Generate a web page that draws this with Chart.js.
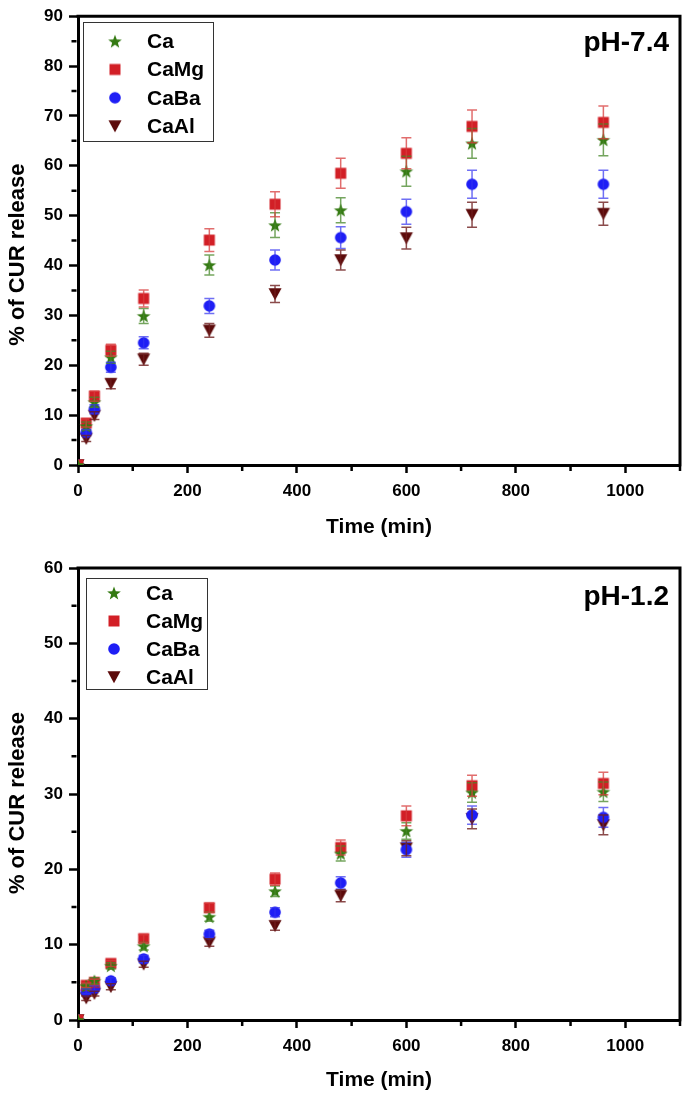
<!DOCTYPE html>
<html><head><meta charset="utf-8">
<script src="https://cdn.jsdelivr.net/npm/chart.js@4/dist/chart.umd.min.js"></script>
<style>
html,body{margin:0;padding:0;background:#fff;}
#c1{position:absolute;left:0;top:0;}
#c2{position:absolute;left:0;top:550px;}
</style></head><body>
<canvas id="c1" width="688" height="550"></canvas>
<canvas id="c2" width="688" height="549"></canvas>
<script>
// ---------- data ----------
const times = [0, 15, 30, 60, 120, 240, 360, 480, 600, 720, 960];
const seriesNames = ['Ca', 'CaMg', 'CaBa', 'CaAl'];
const xTickLabels = [0, 200, 400, 600, 800, 1000];

// pH 7.4
const ph74_Ca   = [0, 7.8, 12.6, 21.6, 29.9, 40.1, 48.1, 51.1, 58.9, 64.5, 65.2];
const ph74_CaMg = [0, 8.4, 13.8, 23.0, 33.4, 45.1, 52.3, 58.5, 62.5, 67.9, 68.7];
const ph74_CaBa = [0, 6.5, 11.2, 19.6, 24.5, 31.9, 41.1, 45.6, 50.8, 56.3, 56.3];
const ph74_CaAl = [0, 5.3, 9.9, 16.3, 21.2, 27.0, 34.3, 41.1, 45.5, 50.2, 50.4];
const ph74_CaErr   = [0, 0.8, 1.0, 1.2, 1.5, 2.0, 2.5, 2.5, 3.0, 3.0, 3.2];
const ph74_CaMgErr = [0, 0.8, 1.0, 1.2, 1.7, 2.3, 2.5, 3.0, 3.1, 3.3, 3.3];
const ph74_CaBaErr = [0, 0.6, 0.9, 1.0, 1.2, 1.5, 2.0, 2.2, 2.5, 2.8, 2.8];
const ph74_CaAlErr = [0, 0.6, 0.8, 1.0, 1.2, 1.4, 1.7, 2.0, 2.2, 2.5, 2.3];

// pH 1.2
const ph12_Ca   = [0, 4.5, 5.2, 7.2, 9.8, 13.7, 17.1, 22.1, 25.1, 30.2, 30.3];
const ph12_CaMg = [0, 4.6, 5.0, 7.5, 10.8, 14.9, 18.7, 22.9, 27.1, 31.1, 31.4];
const ph12_CaBa = [0, 3.8, 4.2, 5.2, 8.1, 11.4, 14.3, 18.2, 22.6, 27.2, 26.9];
const ph12_CaAl = [0, 2.9, 3.5, 4.4, 7.4, 10.3, 12.5, 16.5, 22.8, 26.7, 25.9];
const ph12_CaErr   = [0, 0.3, 0.4, 0.4, 0.5, 0.6, 0.7, 1.0, 1.1, 1.3, 1.3];
const ph12_CaMgErr = [0, 0.3, 0.4, 0.4, 0.5, 0.6, 0.8, 1.0, 1.3, 1.4, 1.5];
const ph12_CaBaErr = [0, 0.3, 0.3, 0.4, 0.5, 0.5, 0.6, 0.8, 1.0, 1.2, 1.3];
const ph12_CaAlErr = [0, 0.3, 0.3, 0.4, 0.4, 0.5, 0.6, 0.8, 1.0, 1.3, 1.3];

// ---------- styling ----------
const FONT = "'Liberation Sans', Arial, Helvetica, sans-serif";
const markerColors = ['#347A12', '#D21F26', '#1E1EF5', '#5C0A0A'];
const errColors = ['rgba(70,135,40,0.75)', 'rgba(215,60,60,0.75)', 'rgba(50,50,240,0.7)', 'rgba(110,30,30,0.8)'];
const markerShapes = ['star', 'square', 'circle', 'triDown'];

function makeMarker(shape, color) {
  const S = 16, c = S / 2;
  const cv = document.createElement('canvas');
  cv.width = S; cv.height = S;
  const g = cv.getContext('2d');
  g.fillStyle = color;
  g.beginPath();
  if (shape === 'star') {
    const R = 7.2, r = 3.0;
    for (let k = 0; k < 10; k++) {
      const rad = k % 2 === 0 ? R : r;
      const a = -Math.PI / 2 + k * Math.PI / 5;
      const px = c + rad * Math.cos(a), py = c + 0.6 + rad * Math.sin(a);
      if (k === 0) g.moveTo(px, py); else g.lineTo(px, py);
    }
    g.closePath();
  } else if (shape === 'square') {
    g.rect(c - 5.5, c - 5.5, 11, 11);
  } else if (shape === 'circle') {
    g.arc(c, c, 5.8, 0, Math.PI * 2);
  } else {
    g.moveTo(c - 6.5, c - 5.8);
    g.lineTo(c + 6.5, c - 5.8);
    g.lineTo(c, c + 6.2);
    g.closePath();
  }
  g.fill();
  return cv;
}
const markers = markerShapes.map((s, i) => makeMarker(s, markerColors[i]));

// ---------- plugins ----------
const errorBarPlugin = {
  id: 'errorBars',
  afterDatasetsDraw(chart) {
    const ctx = chart.ctx, xs = chart.scales.x, ys = chart.scales.y;
    ctx.save();
    chart.data.datasets.forEach((ds, i) => {
      ctx.strokeStyle = ds.errColor;
      ctx.lineWidth = 1.5;
      ds.data.forEach((p, j) => {
        const e = ds.errors[j];
        if (!e) return;
        const x = xs.getPixelForValue(p.x);
        const yh = ys.getPixelForValue(p.y + e);
        const yl = ys.getPixelForValue(p.y - e);
        ctx.beginPath();
        ctx.moveTo(x, yh); ctx.lineTo(x, yl);
        ctx.moveTo(x - 5, yh); ctx.lineTo(x + 5, yh);
        ctx.moveTo(x - 5, yl); ctx.lineTo(x + 5, yl);
        ctx.stroke();
      });
    });
    ctx.restore();
  }
};

const framePlugin = {
  id: 'frame',
  afterDraw(chart) {
    const ctx = chart.ctx, a = chart.chartArea;
    ctx.save();
    ctx.strokeStyle = '#000';
    ctx.lineWidth = 3;
    ctx.beginPath();
    ctx.moveTo(a.left - 1.5, a.top);
    ctx.lineTo(a.right, a.top);
    ctx.lineTo(a.right, a.bottom + 1.5);
    ctx.stroke();
    ctx.lineWidth = 2.5;
    const xs = chart.scales.x, ys = chart.scales.y;
    ctx.beginPath();
    xs.ticks.forEach(t => {
      if (t.value % 200 !== 0) {
        const px = xs.getPixelForValue(t.value);
        ctx.moveTo(px, a.bottom + 1.5); ctx.lineTo(px, a.bottom + 6);
      }
    });
    ys.ticks.forEach(t => {
      if (t.value % 10 !== 0) {
        const py = ys.getPixelForValue(t.value);
        ctx.moveTo(a.left - 1.5, py); ctx.lineTo(a.left - 6.5, py);
      }
    });
    ctx.stroke();
    ctx.restore();
  }
};

const yTitlePlugin = {
  id: 'yTitle',
  afterDraw(chart, args, o) {
    const ctx = chart.ctx, a = chart.chartArea;
    ctx.save();
    ctx.translate(o.x, (a.top + a.bottom) / 2 + o.dy);
    ctx.rotate(-Math.PI / 2);
    ctx.font = 'bold 22px ' + FONT;
    ctx.fillStyle = '#000';
    ctx.textAlign = 'center';
    ctx.textBaseline = 'middle';
    ctx.fillText(o.text, 0, 0);
    ctx.restore();
  }
};

const boxLegendPlugin = {
  id: 'boxLegend',
  afterDraw(chart, args, o) {
    const ctx = chart.ctx, a = chart.chartArea;
    const bx = a.left + o.x, by = a.top + o.y;
    ctx.save();
    ctx.strokeStyle = '#333';
    ctx.lineWidth = 1;
    ctx.strokeRect(Math.round(bx) + 0.5, Math.round(by) + 0.5, o.w, o.h);
    ctx.font = 'bold ' + o.fontSize + 'px ' + FONT;
    ctx.fillStyle = '#000';
    ctx.textBaseline = 'middle';
    ctx.textAlign = 'left';
    chart.data.datasets.forEach((ds, i) => {
      const cy = by + o.first + i * o.row;
      const m = ds.pointStyle;
      ctx.drawImage(m, bx + o.mx - m.width / 2, cy - m.height / 2);
      ctx.fillText(ds.label, bx + o.tx, cy + 1);
    });
    ctx.restore();
  }
};

const phLabelPlugin = {
  id: 'phLabel',
  afterDraw(chart, args, o) {
    const ctx = chart.ctx, a = chart.chartArea;
    ctx.save();
    ctx.font = 'bold 28px ' + FONT;
    ctx.fillStyle = '#000';
    ctx.textAlign = 'right';
    ctx.textBaseline = 'middle';
    ctx.fillText(o.text, a.right - o.dx, a.top + o.dy);
    ctx.restore();
  }
};

// ---------- chart builder ----------
function buildChart(id, cfg) {
  const datasets = seriesNames.map((name, i) => ({
    label: name,
    data: times.map((t, j) => ({ x: t, y: cfg.values[i][j] })),
    errors: cfg.errors[i],
    errColor: errColors[i],
    pointStyle: markers[i],
    pointRadius: 7,
    showLine: false,
    backgroundColor: markerColors[i],
    borderColor: markerColors[i]
  }));
  const tickFont = { family: FONT, size: 17, weight: 'bold' };
  return new Chart(document.getElementById(id), {
    type: 'scatter',
    data: { datasets },
    plugins: [errorBarPlugin, framePlugin, yTitlePlugin, boxLegendPlugin, phLabelPlugin],
    options: {
      responsive: false,
      animation: false,
      events: [],
      layout: { padding: { left: 0, right: 6, top: cfg.padTop, bottom: 0 } },
      scales: {
        x: {
          type: 'linear', min: 0, max: 1100,
          afterFit: s => { s.height = cfg.xAxisH; },
          ticks: {
            stepSize: 100, autoSkip: false, maxRotation: 0, padding: 8, color: '#000', font: tickFont,
            callback: v => xTickLabels.includes(v) ? String(v) : ''
          },
          grid: {
            drawOnChartArea: false, drawTicks: true, tickLength: 8, tickWidth: 2.5,
            tickColor: c => (c.tick && c.tick.value % 200 === 0) ? '#000' : 'rgba(0,0,0,0)'
          },
          border: { display: true, color: '#000', width: 3 },
          title: { display: true, text: 'Time (min)', color: '#000',
                   font: { family: FONT, size: 21, weight: 'bold' }, padding: { top: 0, bottom: cfg.xTitlePad } }
        },
        y: {
          type: 'linear', min: 0, max: cfg.yMax,
          afterFit: s => { s.width = 78; },
          ticks: {
            stepSize: 5, autoSkip: false, padding: 6, color: '#000', font: tickFont,
            callback: v => (v % 10 === 0) ? String(v) : ''
          },
          grid: {
            drawOnChartArea: false, drawTicks: true, tickLength: 9, tickWidth: 2.5,
            tickColor: c => (c.tick && c.tick.value % 10 === 0) ? '#000' : 'rgba(0,0,0,0)'
          },
          border: { display: true, color: '#000', width: 3 },
          title: { display: false }
        }
      },
      plugins: {
        legend: { display: false },
        tooltip: { enabled: false },
        yTitle: { text: '% of CUR release', x: 18, dy: cfg.yTitleDy },
        boxLegend: cfg.legend,
        phLabel: { text: cfg.phText, dx: 11, dy: cfg.phDy }
      }
    }
  });
}

buildChart('c1', {
  values: [ph74_Ca, ph74_CaMg, ph74_CaBa, ph74_CaAl],
  errors: [ph74_CaErr, ph74_CaMgErr, ph74_CaBaErr, ph74_CaAlErr],
  yMax: 90, padTop: 14, xAxisH: 85, xTitlePad: 10, yTitleDy: 14,
  phText: 'pH-7.4', phDy: 27,
  legend: { x: 5, y: 6, w: 130, h: 119, first: 19, row: 28.3, mx: 32, tx: 64, fontSize: 21 }
});

buildChart('c2', {
  values: [ph12_Ca, ph12_CaMg, ph12_CaBa, ph12_CaAl],
  errors: [ph12_CaErr, ph12_CaMgErr, ph12_CaBaErr, ph12_CaAlErr],
  yMax: 60, padTop: 18, xAxisH: 79, xTitlePad: 6, yTitleDy: 9,
  phText: 'pH-1.2', phDy: 29,
  legend: { x: 8, y: 10, w: 121, h: 111, first: 15, row: 28, mx: 28, tx: 60, fontSize: 21 }
});
</script>
</body></html>
